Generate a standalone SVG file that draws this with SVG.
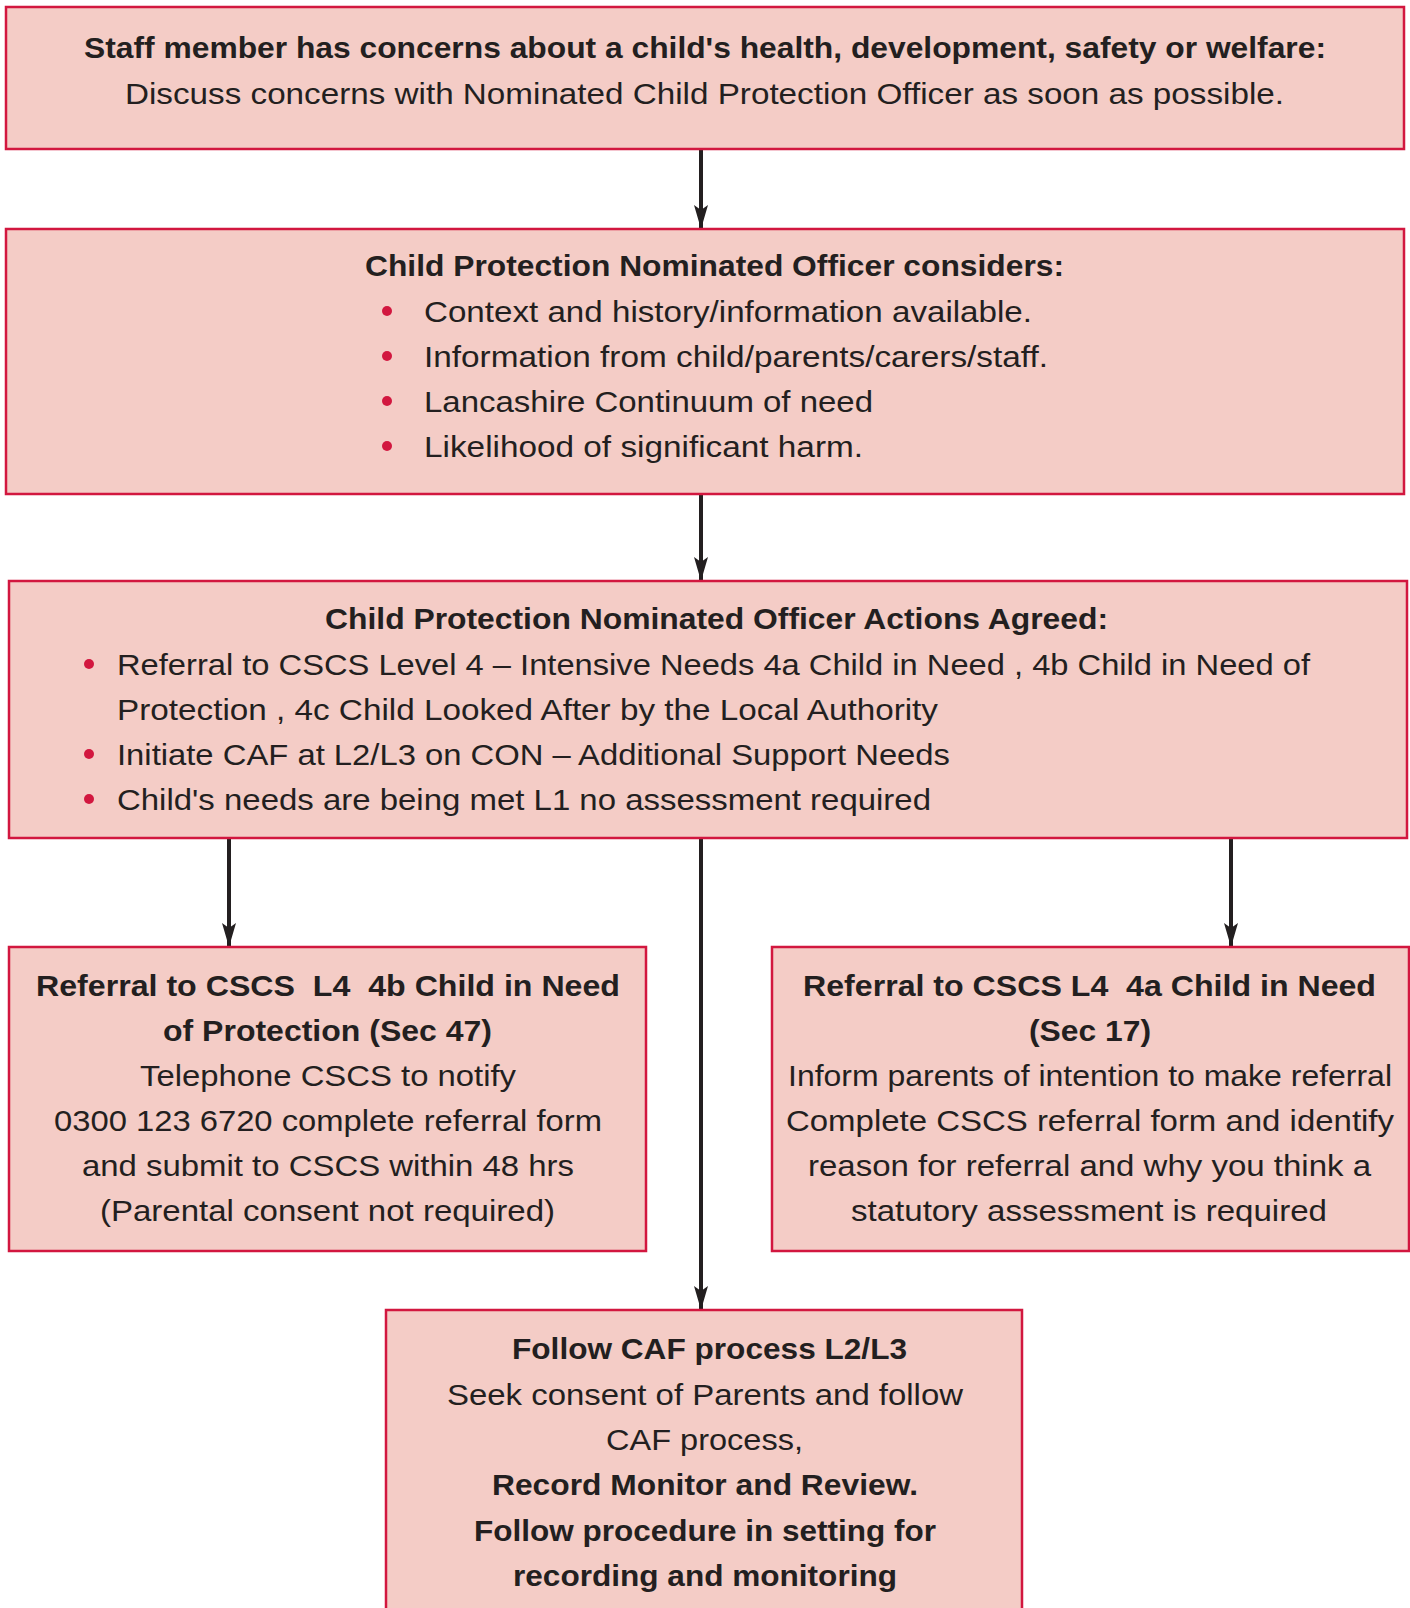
<svg xmlns="http://www.w3.org/2000/svg" width="1410" height="1608" viewBox="0 0 1410 1608">
<style>
.box{fill:#F4CCC6;stroke:#D2173F;stroke-width:2.5}
text{font-family:"Liberation Sans",Arial,Helvetica,sans-serif;font-size:30px;fill:#231F20}
.b{font-weight:bold}
.c{text-anchor:middle}
.dot{fill:#D2173F}
.ar{stroke:#231F20;stroke-width:4;fill:none}
</style>
<defs>
<marker id="ah" markerUnits="userSpaceOnUse" markerWidth="24" markerHeight="14" refX="24" refY="7" orient="auto" viewBox="0 0 24 14">
<path d="M0,0 L24,7 L0,14 L5,7 Z" fill="#231F20"/>
</marker>
</defs>
<rect width="1410" height="1608" fill="#FFFFFF"/>
<g id="connectors">
<line class="ar" x1="701" y1="149" x2="701" y2="229" marker-end="url(#ah)"/>
<line class="ar" x1="701" y1="494" x2="701" y2="581" marker-end="url(#ah)"/>
<line class="ar" x1="229" y1="838" x2="229" y2="947" marker-end="url(#ah)"/>
<line class="ar" x1="701" y1="838" x2="701" y2="1310" marker-end="url(#ah)"/>
<line class="ar" x1="1231" y1="838" x2="1231" y2="947" marker-end="url(#ah)"/>
</g>
<g id="node-concerns">
<rect class="box" x="6" y="7" width="1398" height="142"/>
<text class="b c" x="705" y="58" textLength="1242" lengthAdjust="spacingAndGlyphs">Staff member has concerns about a child's health, development, safety or welfare:</text>
<text class="c" x="704.5" y="104" textLength="1159" lengthAdjust="spacingAndGlyphs">Discuss concerns with Nominated Child Protection Officer as soon as possible.</text>
</g>
<g id="node-considers">
<rect class="box" x="6" y="229" width="1398" height="265"/>
<text class="b" x="365" y="276" textLength="699" lengthAdjust="spacingAndGlyphs">Child Protection Nominated Officer considers:</text>
<circle class="dot" cx="387" cy="311" r="5"/>
<circle class="dot" cx="387" cy="356" r="5"/>
<circle class="dot" cx="387" cy="401" r="5"/>
<circle class="dot" cx="387" cy="446" r="5"/>
<text x="424" y="322" textLength="608" lengthAdjust="spacingAndGlyphs">Context and history/information available.</text>
<text x="424" y="367" textLength="624" lengthAdjust="spacingAndGlyphs">Information from child/parents/carers/staff.</text>
<text x="424" y="412" textLength="449" lengthAdjust="spacingAndGlyphs">Lancashire Continuum of need</text>
<text x="424" y="457" textLength="439" lengthAdjust="spacingAndGlyphs">Likelihood of significant harm.</text>
</g>
<g id="node-actions">
<rect class="box" x="9" y="581" width="1398" height="257"/>
<text class="b" x="325" y="629" textLength="783" lengthAdjust="spacingAndGlyphs">Child Protection Nominated Officer Actions Agreed:</text>
<circle class="dot" cx="89" cy="664" r="5"/>
<circle class="dot" cx="89" cy="754" r="5"/>
<circle class="dot" cx="89" cy="799" r="5"/>
<text x="117" y="675" textLength="1193" lengthAdjust="spacingAndGlyphs">Referral to CSCS Level 4 – Intensive Needs 4a Child in Need , 4b Child in Need of</text>
<text x="117" y="720" textLength="821" lengthAdjust="spacingAndGlyphs">Protection , 4c Child Looked After by the Local Authority</text>
<text x="117" y="765" textLength="833" lengthAdjust="spacingAndGlyphs">Initiate CAF at L2/L3 on CON – Additional Support Needs</text>
<text x="117" y="810" textLength="814" lengthAdjust="spacingAndGlyphs">Child's needs are being met L1 no assessment required</text>
</g>
<g id="node-sec47">
<rect class="box" x="9" y="947" width="637" height="304"/>
<text class="b c" xml:space="preserve" x="328" y="996" textLength="584" lengthAdjust="spacingAndGlyphs">Referral to CSCS  L4  4b Child in Need</text>
<text class="b c" x="327.5" y="1041" textLength="329" lengthAdjust="spacingAndGlyphs">of Protection (Sec 47)</text>
<text class="c" x="328" y="1086" textLength="376" lengthAdjust="spacingAndGlyphs">Telephone CSCS to notify</text>
<text class="c" x="328" y="1131" textLength="548" lengthAdjust="spacingAndGlyphs">0300 123 6720 complete referral form</text>
<text class="c" x="328" y="1176" textLength="492" lengthAdjust="spacingAndGlyphs">and submit to CSCS within 48 hrs</text>
<text class="c" x="327.5" y="1221" textLength="455" lengthAdjust="spacingAndGlyphs">(Parental consent not required)</text>
</g>
<g id="node-sec17">
<rect class="box" x="772" y="947" width="637" height="304"/>
<text class="b c" xml:space="preserve" x="1089.5" y="996" textLength="573" lengthAdjust="spacingAndGlyphs">Referral to CSCS L4  4a Child in Need</text>
<text class="b c" x="1090" y="1041" textLength="122" lengthAdjust="spacingAndGlyphs">(Sec 17)</text>
<text class="c" x="1090" y="1086" textLength="604" lengthAdjust="spacingAndGlyphs">Inform parents of intention to make referral</text>
<text class="c" x="1090" y="1131" textLength="608" lengthAdjust="spacingAndGlyphs">Complete CSCS referral form and identify</text>
<text class="c" x="1089.5" y="1176" textLength="563" lengthAdjust="spacingAndGlyphs">reason for referral and why you think a</text>
<text class="c" x="1089" y="1221" textLength="476" lengthAdjust="spacingAndGlyphs">statutory assessment is required</text>
</g>
<g id="node-caf">
<rect class="box" x="386" y="1310" width="636" height="310"/>
<text class="b c" x="709.5" y="1359" textLength="395" lengthAdjust="spacingAndGlyphs">Follow CAF process L2/L3</text>
<text class="c" x="705" y="1404.5" textLength="516" lengthAdjust="spacingAndGlyphs">Seek consent of Parents and follow</text>
<text class="c" x="704.5" y="1450" textLength="197" lengthAdjust="spacingAndGlyphs">CAF process,</text>
<text class="b c" x="705" y="1495" textLength="426" lengthAdjust="spacingAndGlyphs">Record Monitor and Review.</text>
<text class="b c" x="705" y="1541" textLength="462" lengthAdjust="spacingAndGlyphs">Follow procedure in setting for</text>
<text class="b c" x="705" y="1586" textLength="384" lengthAdjust="spacingAndGlyphs">recording and monitoring</text>
</g>
</svg>
